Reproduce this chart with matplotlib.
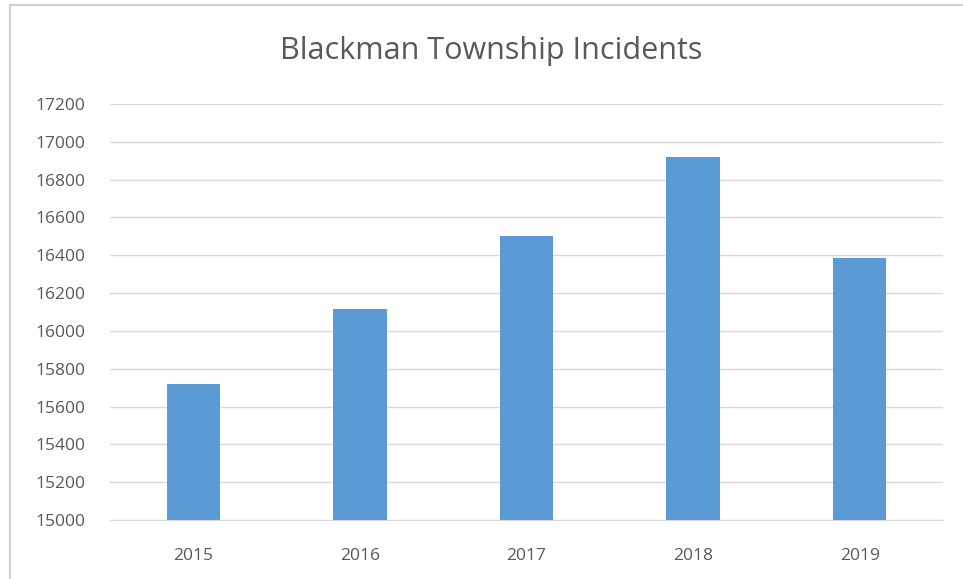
import matplotlib
matplotlib.use("Agg")
import matplotlib.pyplot as plt
from matplotlib.lines import Line2D

years = ["2015", "2016", "2017", "2018", "2019"]
incidents = [15720, 16115, 16500, 16920, 16385]
yticks = list(range(15000, 17201, 200))

plt.rcParams['font.family'] = ['Open Sans', 'DejaVu Sans']

fig = plt.figure(figsize=(9.63, 5.79), dpi=100)
ax = fig.add_axes([110/963, 1-520/579, 833/963, 416/579])

x = range(len(years))
ax.bar(x, incidents, width=0.32, color="#5b9bd5", zorder=3)
ax.set_xlim(-0.5, len(years) - 0.5)
ax.set_ylim(15000, 17200)
ax.set_yticks(yticks)
ax.set_xticks(list(x))
ax.set_xticklabels(years)
ax.grid(axis="y", color="#d9d9d9", linewidth=1, zorder=0)
for s in ["top", "right", "left"]:
    ax.spines[s].set_visible(False)
ax.spines["bottom"].set_color("#d9d9d9")
ax.tick_params(axis="both", length=0, labelsize=12.5, labelcolor="#595959")
ax.tick_params(axis="y", pad=18)
ax.tick_params(axis="x", pad=20)

fig.text(491/963, 1-51/579, "Blackman Township Incidents", ha="center", va="center",
         fontsize=22, color="#595959")

# chart border (left and top edges visible)
fig.add_artist(Line2D([10/963, 10/963], [0, 1-5/579], color="#d0d0d0", lw=1.5,
                      transform=fig.transFigure))
fig.add_artist(Line2D([10/963, 1], [1-5/579, 1-5/579], color="#d0d0d0", lw=1.5,
                      transform=fig.transFigure))

fig.savefig("out.png", dpi=100)
